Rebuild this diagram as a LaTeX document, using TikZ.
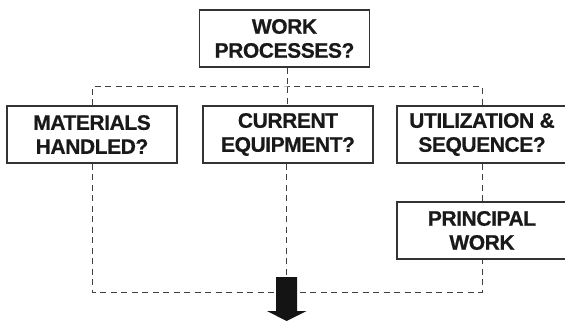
\documentclass[tikz,border=0pt]{standalone}
\usepackage{fontspec}
\setmainfont{Liberation Sans}
\newfontfamily\boxfont{Liberation Sans}[UprightFont={* Bold},LetterSpace=-2,FakeBold=0.6]
\begin{document}
\begin{tikzpicture}[x=1pt,y=-1pt,
  box/.style={draw=black!80,line width=1.2pt,fill=white,minimum width=170pt,minimum height=57pt,
    align=center,inner sep=0pt,text=black!90,font=\fontsize{21}{24}\boxfont},
  link/.style={draw=black!75,line width=1pt,dash pattern=on 6pt off 4.5pt}]
\useasboundingbox (0,0) rectangle (565,321);
\node[box] (top) at (284.5,38.5) {WORK\\PROCESSES?};
\node[box] (mat) at (92,134.5) {MATERIALS\\HANDLED?};
\node[box] (equip) at (288,134.5) {CURRENT\\EQUIPMENT?};
\node[box] (util) at (482,134.5) {UTILIZATION \&\\SEQUENCE?};
\node[box] (princ) at (482,230.5) {PRINCIPAL\\WORK};
\coordinate (hub) at (287,87);
\coordinate (low) at (287,292);
\coordinate (arr) at (286.5,277);
\draw[link] (top.south -| hub) -- (hub);
\draw[link] (mat.north) |- (hub) -| (util.north);
\draw[link] (hub) -- (hub |- equip.north);
\draw[link] (mat.south) |- (low) -| (princ.south);
\draw[link] (equip.south -| arr) -- (arr);
\draw[link] (util.south) -- (princ.north);
\fill[black!92] (arr) ++(-10.5,0) -- ++(21,0) -- ++(0,34) -- ++(9.5,0) -- (286.5,321) -- (267,311) -- (276,311) -- cycle;
\end{tikzpicture}
\end{document}
